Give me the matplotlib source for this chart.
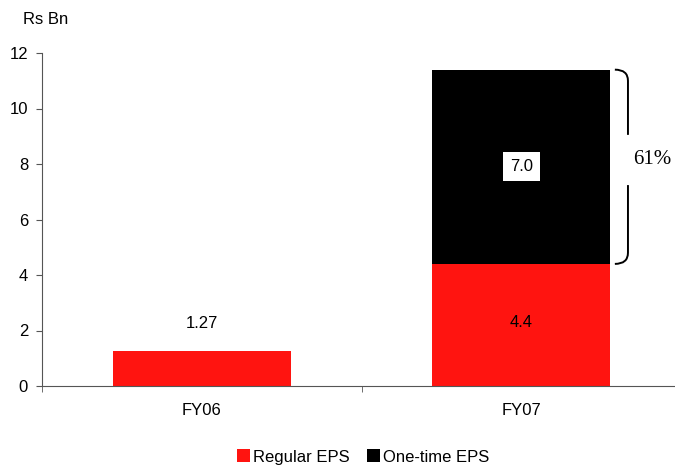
import matplotlib
matplotlib.use('Agg')
import matplotlib.pyplot as plt
from matplotlib.path import Path
from matplotlib.patches import PathPatch, Patch

# data
years = ['FY06', 'FY07']
regular_eps = [1.27, 4.4]
onetime_eps = [0.0, 7.0]
regular_labels = ['1.27', '4.4']

plt.rcParams['font.family'] = ['Liberation Sans', 'DejaVu Sans']
FS = 12

fig = plt.figure(figsize=(6.75, 4.67), dpi=100)
ax = fig.add_axes([42 / 675, 81 / 467, 639 / 675, 333 / 467])

x = list(range(len(years)))
w = 0.557
ax.bar(x, regular_eps, w, color='#ff1410', zorder=2)
ax.bar(x, onetime_eps, w, bottom=regular_eps, color='black', zorder=2)

ax.set_xlim(-0.5, 1.5)
ax.set_ylim(0, 12)
ax.set_yticks(range(0, 13, 2))
ax.set_xticks(x)
ax.set_xticklabels(years, fontsize=FS)
ax.set_xticks([-0.5, 0.5, 1.5], minor=True)
ax.tick_params(axis='x', which='major', length=0, pad=12)
ax.tick_params(axis='x', which='minor', length=4, direction='out', color='#555555')
ax.tick_params(axis='y', length=4, direction='out', labelsize=FS, color='#555555', pad=6)
for s in ['top', 'right']:
    ax.spines[s].set_visible(False)
ax.spines['left'].set_color('#555555')
ax.spines['bottom'].set_color('#555555')

# value labels
ax.text(0, regular_eps[0] + 1.0, regular_labels[0], ha='center', va='center', fontsize=FS)
ax.text(1, regular_eps[1] / 2 + 0.1, regular_labels[1], ha='center', va='center', fontsize=FS)
ax.text(1, regular_eps[1] + onetime_eps[1] / 2, f'{onetime_eps[1]:.1f}', ha='center', va='center',
        fontsize=FS, bbox=dict(facecolor='white', edgecolor='none', pad=5))

# bracket on the right of FY07
top = regular_eps[1] + onetime_eps[1]
bot = regular_eps[1]
x0, x1 = 1.293, 1.334
r = 0.4
gap_hi, gap_lo = 9.05, 7.24
upper = Path([(x0, top), (x1, top), (x1, top - r), (x1, gap_hi)],
             [Path.MOVETO, Path.CURVE3, Path.CURVE3, Path.LINETO])
lower = Path([(x1, gap_lo), (x1, bot + r), (x1, bot), (x0, bot)],
             [Path.MOVETO, Path.LINETO, Path.CURVE3, Path.CURVE3])
for p in (upper, lower):
    ax.add_patch(PathPatch(p, facecolor='none', edgecolor='black', lw=1.4, clip_on=False))
pct = onetime_eps[1] / top * 100
ax.text(1.35, (gap_hi + gap_lo) / 2, f'{pct:.0f}%', ha='left', va='center', fontsize=15,
        family=['Liberation Serif', 'DejaVu Serif'])

fig.text(23 / 675, 1 - 20 / 467, 'Rs Bn', ha='left', va='center', fontsize=FS)

handles = [Patch(facecolor='#ff1410', edgecolor='none'), Patch(facecolor='black', edgecolor='none')]
fig.legend(handles, ['Regular EPS', 'One-time EPS'], loc='center', bbox_to_anchor=(363 / 675, 1 - 457 / 467),
           ncol=2, frameon=False, fontsize=FS, handlelength=0.8, handleheight=0.8,
           handletextpad=0.2, columnspacing=1.0, borderpad=0)

fig.savefig('out.png', dpi=100)
